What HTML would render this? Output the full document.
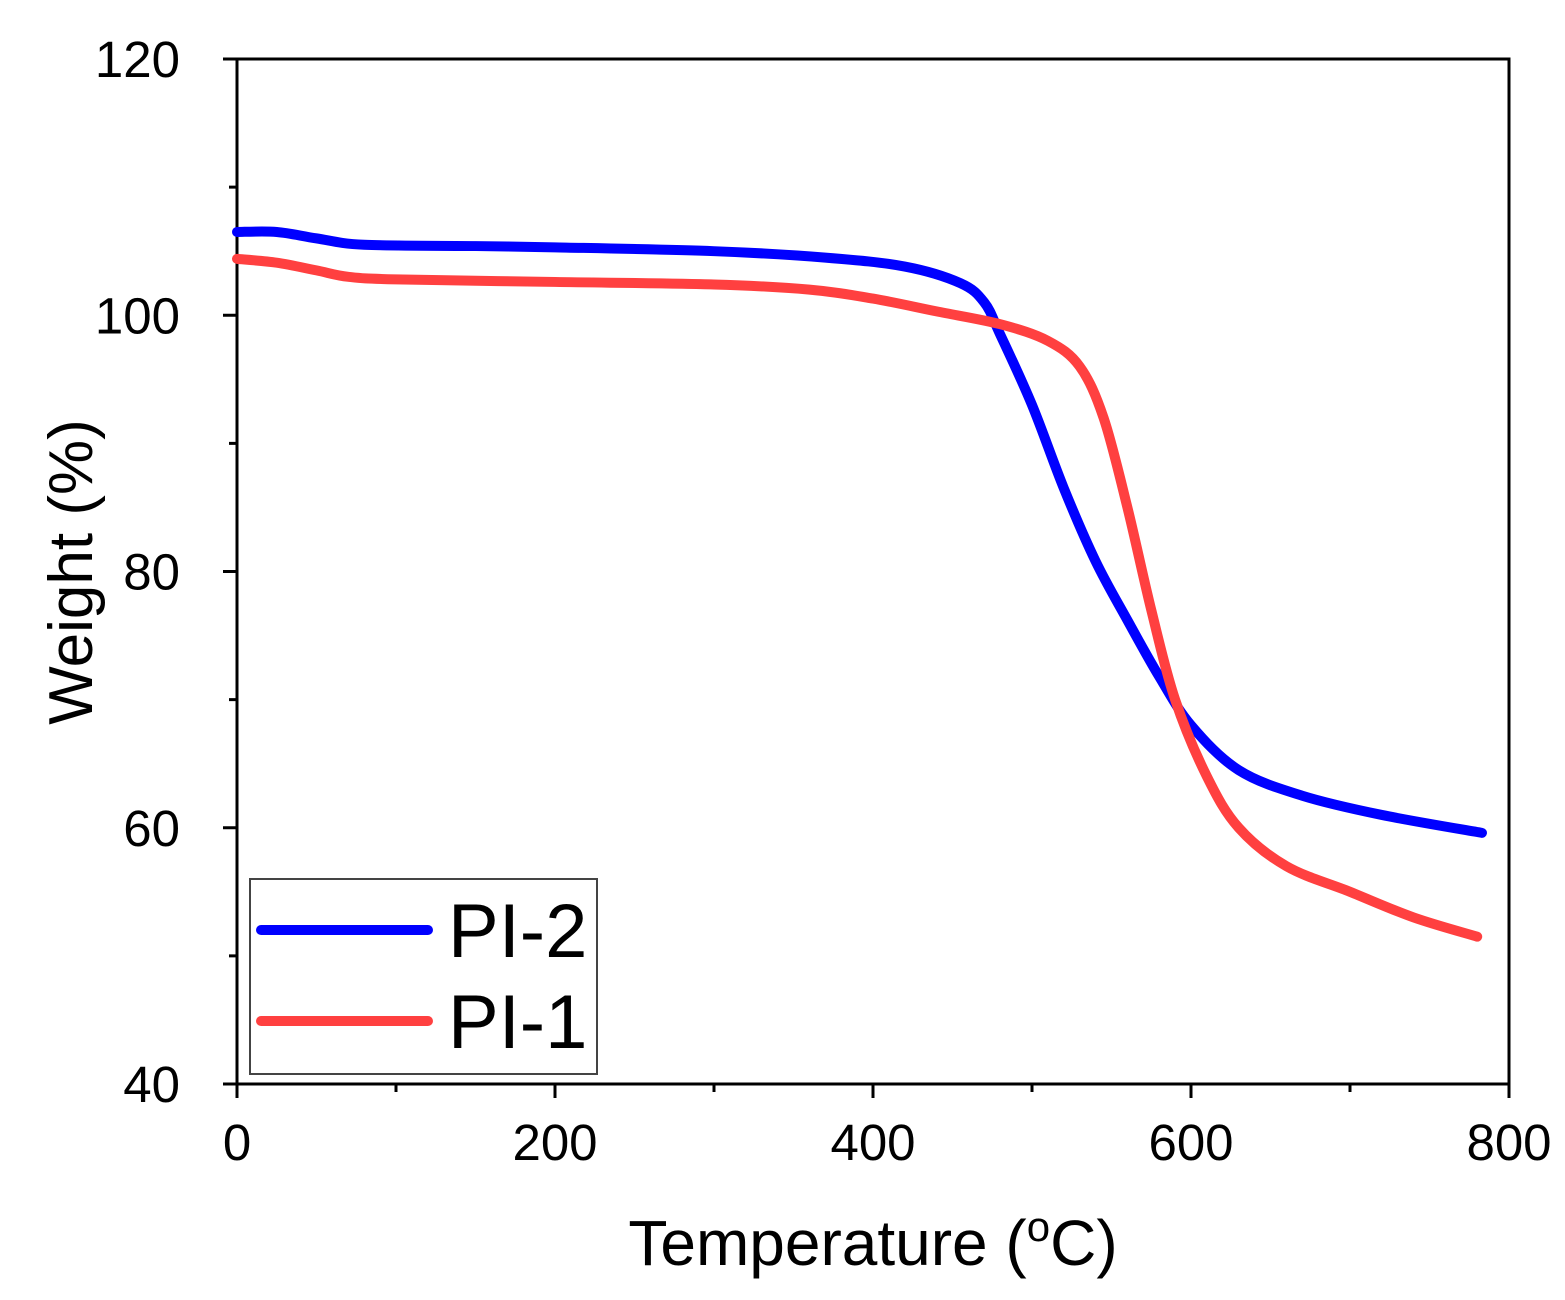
<!DOCTYPE html>
<html><head><meta charset="utf-8"><style>
html,body{margin:0;padding:0;background:#fff;}
svg{display:block;font-family:"Liberation Sans",Arial,sans-serif;}
</style></head><body>
<svg id="chart" width="1565" height="1300" viewBox="0 0 1565 1300" xmlns="http://www.w3.org/2000/svg">
<g id="plot"></g>
</svg>
<script>
const xTicks=[0,200,400,600,800];
const yTicks=[40,60,80,100,120];
const pi2T=[0,25,50,80,150,200,300,370,420,455,470,480,500,520,540,560,580,600,630,670,720,783];
const pi2W=[106.5,106.5,106.0,105.5,105.4,105.3,105.0,104.5,103.8,102.5,101,98.5,93,86.5,80.8,76.2,71.8,68,64.5,62.5,61,59.6];
const pi1T=[0,25,50,70,100,200,300,360,400,440,480,510,530,545,560,575,590,610,630,660,700,740,780];
const pi1W=[104.4,104.1,103.5,103,102.8,102.6,102.4,102,101.3,100.3,99.3,98,96,92,85,77,70,64,60,57,55,53,51.5];

const L=237,R=1509,T=59,B=1084;
const sx=v=>L+(v-0)/(800-0)*(R-L);
const sy=v=>B-(v-40)/(120-40)*(B-T);
const NS="http://www.w3.org/2000/svg";
const g=document.getElementById('plot');
function el(tag,attrs,parent){const e=document.createElementNS(NS,tag);for(const k in attrs)e.setAttribute(k,attrs[k]);(parent||g).appendChild(e);return e;}

const frame=el('rect',{x:L,y:T,width:R-L,height:B-T,fill:'none',stroke:'#000','stroke-width':3});



for(let v=0;v<=800;v+=100){
  const major=v%200===0;
  const t=el('line',{x1:sx(v),x2:sx(v),y1:B,y2:B+(major?14:8),stroke:'#000','stroke-width':3});
  
  
}
xTicks.forEach(v=>{
  const t=el('text',{x:sx(v),y:B+76,'text-anchor':'middle','font-size':51});
  t.textContent=v;
  
  
});
for(let v=40;v<=120;v+=10){
  const major=v%20===0;
  const t=el('line',{x1:L,x2:L-(major?14:8),y1:sy(v),y2:sy(v),stroke:'#000','stroke-width':3});
  
  
}
yTicks.forEach(v=>{
  const t=el('text',{x:L-57,y:sy(v)+18,'text-anchor':'end','font-size':51});
  t.textContent=v;
  
  
});
const xt=el('text',{x:873,y:1265,'text-anchor':'middle','font-size':64});
xt.innerHTML='Temperature (<tspan dy="-24" font-size="42">o</tspan><tspan dy="24">C)</tspan>';


const yt=el('text',{x:0,y:0,'text-anchor':'middle','font-size':62,transform:'translate(92,572) rotate(-90)'});
yt.textContent='Weight (%)';



function smoothPath(xs,ys){
  const p=xs.map((x,i)=>[sx(x),sy(ys[i])]);
  let d=`M${p[0][0]},${p[0][1]}`;
  for(let i=0;i<p.length-1;i++){
    const p0=p[i-1]||p[i],p1=p[i],p2=p[i+1],p3=p[i+2]||p2;
    const c1=[p1[0]+(p2[0]-p0[0])/6,p1[1]+(p2[1]-p0[1])/6];
    const c2=[p2[0]-(p3[0]-p1[0])/6,p2[1]-(p3[1]-p1[1])/6];
    d+=` C${c1[0]},${c1[1]} ${c2[0]},${c2[1]} ${p2[0]},${p2[1]}`;
  }
  return d;
}
const s2=el('path',{d:smoothPath(pi2T,pi2W),fill:'none',stroke:'#0000ff','stroke-width':10,'stroke-linecap':'round','stroke-linejoin':'round'});


const s1=el('path',{d:smoothPath(pi1T,pi1W),fill:'none',stroke:'#ff4040','stroke-width':10,'stroke-linecap':'round','stroke-linejoin':'round'});



const lg=el('g',{});


el('rect',{x:250,y:879,width:347,height:195,fill:'#fff',stroke:'#444','stroke-width':2},lg);
[['PI-2','#0000ff',930],['PI-1','#ff4040',1021]].forEach(([n,c,y])=>{
  const e=el('g',{},lg);
  
  
  el('line',{x1:261,x2:428,y1:y,y2:y,stroke:c,'stroke-width':10,'stroke-linecap':'round'},e);
  const t=el('text',{x:448,y:y+27,'font-size':76},e);
  t.textContent=n;
});
</script>
</body></html>
